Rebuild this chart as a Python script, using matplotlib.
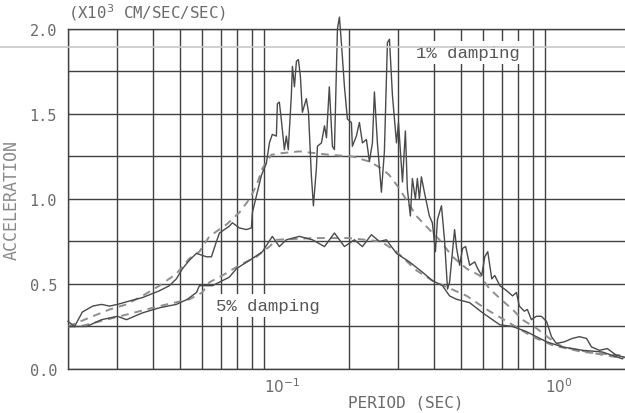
import numpy as np
import matplotlib
matplotlib.use('Agg')
import matplotlib.pyplot as plt
from matplotlib.lines import Line2D

# response spectra, period (sec) vs acceleration (x10^3 cm/sec/sec)
t_1s = [0.020, 0.0211, 0.0225, 0.0245, 0.0263, 0.0281, 0.030, 0.0331, 0.0368, 0.0423,
        0.0459, 0.0486, 0.0511, 0.0541, 0.0573, 0.0622, 0.0648, 0.0675, 0.0692, 0.075,
        0.0769, 0.0814, 0.0863, 0.0899, 0.0906, 0.0937, 0.0976, 0.1016, 0.1042, 0.1067,
        0.1103, 0.1112, 0.113, 0.1148, 0.1178, 0.1197, 0.1216, 0.1247, 0.1258, 0.1279,
        0.130, 0.1321, 0.1343, 0.1365, 0.141, 0.1435, 0.1469, 0.1494, 0.1531, 0.1544,
        0.1596, 0.1636, 0.1663, 0.1702, 0.1746, 0.1775, 0.1819, 0.1849, 0.1879, 0.1927,
        0.1974, 0.204, 0.2056, 0.2124, 0.2178, 0.2233, 0.2307, 0.2364, 0.2423, 0.2463,
        0.2524, 0.2608, 0.2673, 0.274, 0.2786, 0.2855, 0.2951, 0.300, 0.310, 0.3175,
        0.3226, 0.3307, 0.3362, 0.3446, 0.3502, 0.3561, 0.3619, 0.3709, 0.3864, 0.396,
        0.4061, 0.4129, 0.4267, 0.4374, 0.4484, 0.4559, 0.4751, 0.483, 0.4951, 0.5075,
        0.5202, 0.5376, 0.5602, 0.5742, 0.5934, 0.6083, 0.6235, 0.6443, 0.6604, 0.6882,
        0.7288, 0.764, 0.7888, 0.8075, 0.8414, 0.8626, 0.8914, 0.9286, 0.9674, 1.009,
        1.051, 1.094, 1.168, 1.248, 1.321, 1.40, 1.458, 1.555, 1.662, 1.789, 1.91]
a_1s = [0.28, 0.25, 0.335, 0.37, 0.38, 0.37, 0.38, 0.40, 0.42, 0.46,
        0.49, 0.53, 0.59, 0.64, 0.68, 0.66, 0.66, 0.75, 0.80, 0.84,
        0.86, 0.83, 0.82, 0.83, 0.92, 1.02, 1.14, 1.21, 1.33, 1.38,
        1.37, 1.56, 1.57, 1.47, 1.29, 1.37, 1.29, 1.61, 1.78, 1.66,
        1.81, 1.82, 1.72, 1.51, 1.59, 1.51, 1.14, 0.96, 1.18, 1.31,
        1.33, 1.43, 1.36, 1.66, 1.31, 1.29, 2.00, 2.07, 1.92, 1.66,
        1.47, 1.45, 1.31, 1.37, 1.45, 1.33, 1.35, 1.22, 1.33, 1.63,
        1.33, 1.04, 1.28, 1.92, 1.94, 1.61, 1.33, 1.45, 1.10, 1.40,
        1.06, 0.90, 1.12, 1.00, 1.12, 1.00, 1.13, 1.04, 0.90, 0.86,
        0.69, 0.88, 0.96, 0.76, 0.47, 0.51, 0.82, 0.71, 0.61, 0.71,
        0.72, 0.61, 0.63, 0.59, 0.55, 0.66, 0.69, 0.53, 0.55, 0.49,
        0.46, 0.43, 0.45, 0.37, 0.34, 0.35, 0.29, 0.31, 0.31, 0.28,
        0.19, 0.15, 0.16, 0.18, 0.19, 0.18, 0.13, 0.11, 0.12, 0.08, 0.07]

t_1d = [0.020, 0.0245, 0.0281, 0.0323, 0.0368, 0.0423, 0.0486, 0.0541, 0.0587, 0.0637,
        0.0733, 0.0814, 0.0885, 0.0937, 0.0984, 0.1059, 0.1158, 0.1332, 0.170, 0.2056,
        0.2364, 0.2608, 0.2786, 0.3024, 0.3474, 0.3864, 0.4197, 0.4673, 0.5245, 0.5837,
        0.6338, 0.7054, 0.764, 0.8277, 0.9286, 1.034, 1.149, 1.321, 1.518, 1.789, 1.91]
a_1d = [0.25, 0.31, 0.35, 0.38, 0.43, 0.49, 0.56, 0.65, 0.69, 0.78,
        0.85, 0.92, 1.00, 1.08, 1.18, 1.26, 1.27, 1.28, 1.26, 1.25,
        1.22, 1.18, 1.14, 1.06, 0.90, 0.82, 0.76, 0.66, 0.59, 0.55,
        0.47, 0.40, 0.35, 0.29, 0.24, 0.18, 0.13, 0.11, 0.09, 0.07, 0.065]

t_5s = [0.020, 0.0233, 0.0263, 0.030, 0.0323, 0.0368, 0.0423, 0.0486, 0.0532, 0.0573,
        0.0587, 0.0653, 0.075, 0.0795, 0.0906, 0.0984, 0.1067, 0.113, 0.1197, 0.1332,
        0.1482, 0.1636, 0.1775, 0.1927, 0.209, 0.2233, 0.2403, 0.2566, 0.2717, 0.2951,
        0.328, 0.3648, 0.396, 0.4302, 0.4559, 0.483, 0.5376, 0.5983, 0.6882, 0.764,
        0.8553, 1.009, 1.149, 1.355, 1.594, 1.879]
a_5s = [0.25, 0.25, 0.29, 0.31, 0.29, 0.33, 0.36, 0.38, 0.41, 0.45,
        0.49, 0.49, 0.54, 0.59, 0.65, 0.69, 0.78, 0.72, 0.76, 0.78,
        0.76, 0.72, 0.80, 0.72, 0.76, 0.72, 0.79, 0.75, 0.76, 0.68,
        0.63, 0.57, 0.52, 0.49, 0.43, 0.41, 0.39, 0.33, 0.26, 0.25,
        0.22, 0.16, 0.13, 0.11, 0.10, 0.06]

t_5d = [0.020, 0.022, 0.0323, 0.0423, 0.0541, 0.0601, 0.0637, 0.0709, 0.0814, 0.0937,
        0.1042, 0.1103, 0.150, 0.200, 0.260, 0.2951, 0.3474, 0.396, 0.5245, 0.6184,
        0.7288, 0.8987, 1.059, 1.355, 1.879]
a_5d = [0.25, 0.25, 0.32, 0.37, 0.41, 0.45, 0.51, 0.55, 0.61, 0.66,
        0.72, 0.76, 0.77, 0.77, 0.75, 0.69, 0.58, 0.52, 0.43, 0.35,
        0.28, 0.19, 0.14, 0.10, 0.08]

txt = '#6a6a6a'
grid = '#404040'

fig = plt.figure(figsize=(6.25, 4.14), dpi=100)
ax = fig.add_axes([0.1088, 0.1063, 0.8992, 0.8213])

ax.plot(t_1d, a_1d, color='#8e8e8e', lw=1.4, dashes=(4, 3), zorder=3)
ax.plot(t_5d, a_5d, color='#8e8e8e', lw=1.4, dashes=(4, 3), zorder=3)
ax.plot(t_1s, a_1s, color='#4a4a4a', lw=1.0, zorder=4, clip_on=False)
ax.plot(t_5s, a_5s, color='#4a4a4a', lw=1.0, zorder=4)

ax.set_xscale('log')
ax.set_xlim(0.02, 2.0)
ax.set_ylim(0, 2.0)

ax.set_xticks([0.1, 1.0])
ax.set_xticks([0.02, 0.03, 0.04, 0.05, 0.06, 0.07, 0.08, 0.09,
               0.2, 0.3, 0.4, 0.5, 0.6, 0.7, 0.8, 0.9], minor=True)
ax.set_xticklabels([])
ax.set_xticklabels([], minor=True)
ax.set_yticks([0, 0.5, 1.0, 1.5, 2.0])
ax.set_yticks([0.25, 0.75, 1.25, 1.75], minor=True)
ax.set_yticklabels(['0.0', '0.5', '1.0', '1.5', '2.0'], family='DejaVu Sans Mono',
                   fontsize=11, color=txt)
ax.tick_params(which='both', length=0, pad=8)
ax.grid(which='both', color=grid, lw=1.0)
ax.set_axisbelow(True)
for s in ax.spines.values():
    s.set_color(grid)
    s.set_linewidth(1.0)

# decade labels start at the grid line
for v, s in [(0.1, '$10^{-1}$'), (1.0, '$10^{0}$')]:
    ax.text(v, -0.045, s, ha='left', va='top', fontsize=11, color=txt,
            family='DejaVu Sans Mono')

ax.text(0.02, 2.04, '(X10$^3$ CM/SEC/SEC)', ha='left', va='bottom', fontsize=11.3,
        color=txt, family='DejaVu Sans Mono')
fig.text(406 / 625, 1 - 403 / 414, 'PERIOD (SEC)', ha='center', va='center',
         fontsize=11.5, color=txt, family='DejaVu Sans Mono')
fig.text(12 / 625, 1 - 200 / 414, 'ACCELERATION', ha='center', va='center',
         rotation=90, fontsize=12, color='#8a8a8a', family='DejaVu Sans Mono')

box = dict(facecolor='white', edgecolor='none', pad=3)
ax.text(0.3475, 1.86, '1% damping', ha='left', va='center', fontsize=12.5,
        color='#555555', family='Liberation Mono', bbox=box, zorder=5)
ax.text(0.0672, 0.375, '5% damping', ha='left', va='center', fontsize=12.5,
        color='#555555', family='Liberation Mono', bbox=box, zorder=5)

# faint crease across the sheet
fig.add_artist(Line2D([0, 1], [1 - 48 / 414, 1 - 48 / 414], color='#c8c8c8', lw=1.2))

fig.savefig('out.png', dpi=100)
